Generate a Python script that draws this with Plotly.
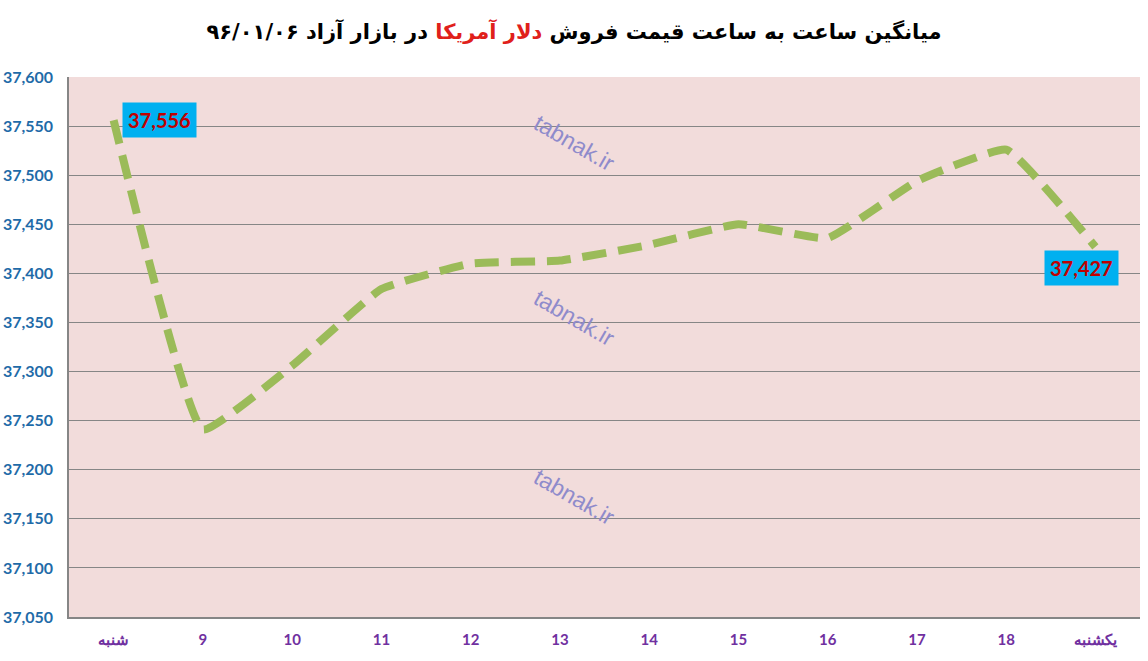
import plotly.graph_objects as go

# hourly average selling price of US dollar, free market 96/01/06
hours = ["شنبه", "9", "10", "11", "12", "13", "14", "15", "16", "17", "18", "یکشنبه"]
prices = [37556, 37241, 37306, 37384, 37410, 37413, 37429, 37450, 37436, 37494, 37526, 37427]
y_ticks = list(range(37050, 37601, 50))
watermark_pos = [0.878, 0.554, 0.222]

fig = go.Figure()
fig.add_trace(go.Scatter(
    x=hours, y=prices, mode="lines",
    line=dict(color="#9BBB59", width=8, dash="24px,12px", shape="spline", smoothing=0.35),
    hoverinfo="x+y", showlegend=False,
))

# first and last value labels
fig.add_annotation(x=hours[0], y=prices[0], text="<b>37,556</b>", showarrow=False,
                   xanchor="left", yanchor="middle", xshift=8,
                   bgcolor="#00B0F0", borderpad=5,
                   font=dict(family="Lato", size=20, color="#C00000"))
fig.add_annotation(x=hours[-1], y=prices[-1], text="<b>37,427</b>", showarrow=False,
                   xanchor="center", yanchor="top", xshift=-14, yshift=-3,
                   bgcolor="#00B0F0", borderpad=5,
                   font=dict(family="Lato", size=20, color="#C00000"))

for wy in watermark_pos:
    fig.add_annotation(xref="paper", yref="paper", x=0.472, y=wy, text="tabnak.ir",
                       showarrow=False, textangle=30, xanchor="center", yanchor="middle",
                       font=dict(family="Liberation Sans", size=23, color="#8F8BCB"))

title = ("<b>میانگین ساعت به ساعت قیمت فروش "
         "<span style='color:#E0201B'>دلار آمریکا</span>"
         " در بازار آزاد ۹۶/۰۱/۰۶</b>")

fig.update_layout(
    width=1148, height=661,
    margin=dict(l=69, r=8, t=77, b=44),
    paper_bgcolor="white",
    plot_bgcolor="#F2DCDB",
    title=dict(text=title, x=0.5, xanchor="center", y=0.952, yanchor="middle",
               font=dict(family="DejaVu Sans", size=21, color="black")),
    xaxis=dict(
        type="category", range=[-0.5, 11.5], showgrid=False,
        showline=True, linecolor="#868686", linewidth=1.5,
        tickfont=dict(family="Lato", size=15, color="#7030A0", weight="bold"),
        ticklabelstandoff=8, fixedrange=True, automargin=False,
    ),
    yaxis=dict(
        range=[37050, 37600], tickvals=y_ticks, tickformat=",",
        showgrid=True, gridcolor="#868686", gridwidth=1.2,
        showline=True, linecolor="#868686", linewidth=1.5,
        zeroline=False,
        tickfont=dict(family="Lato", size=16, color="#1F6BA8", weight="bold"),
        ticklabelstandoff=11, fixedrange=True, automargin=False,
    ),
)

# drop the page's default body margin so the figure fills the window
fig.write_html("out.html", config={"displayModeBar": False},
               post_script="document.body.style.margin = '0';")
